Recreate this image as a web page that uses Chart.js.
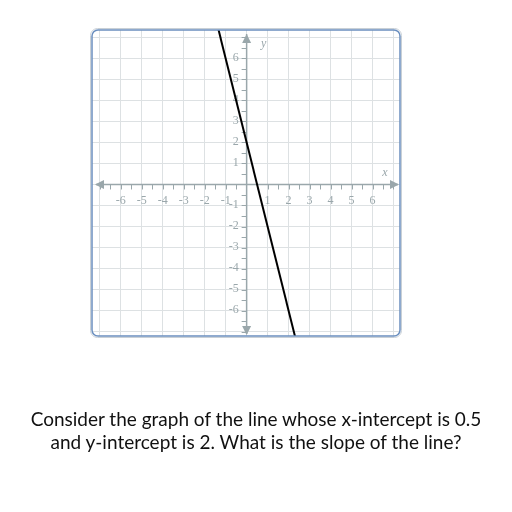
<!DOCTYPE html>
<html lang="en">
<head>
<meta charset="UTF-8">
<script src="https://cdn.jsdelivr.net/npm/chart.js"></script>
<style>
  body { margin: 0; background: #fff; }
  #wrap { position: relative; width: 512px; height: 512px; }
  #graph { position: absolute; left: 0; top: 0; }
  .question {
    position: absolute; left: 0; top: 407px; width: 512px;
    text-align: center; font-family: Lato, sans-serif; font-size: 19px;
    line-height: 23px; color: #111;
  }
</style>
</head>
<body>
<div id="wrap">
  <canvas id="graph" width="512" height="512"></canvas>
  <div class="question">Consider the graph of the line whose x-intercept is 0.5<br>and y-intercept is 2. What is the slope of the line?</div>
</div>
<script>
  // line y = -4x + 2, two points outside the view (clipped)
  const lineX = [-2, 3];
  const lineY = [10, -10];

  // tick labels on the axes
  const xTickValues = [-6, -5, -4, -3, -2, -1, 1, 2, 3, 4, 5, 6];
  const xTickLabels = ['-6', '-5', '-4', '-3', '-2', '-1', '1', '2', '3', '4', '5', '6'];
  const yTickValues = [6, 5, 4, 3, 2, 1, -1, -2, -3, -4, -5, -6];
  const yTickLabels = ['6', '5', '4', '3', '2', '1', '-1', '-2', '-3', '-4', '-5', '-6'];

  const axisColor = '#9aa7ab';
  const gridColor = '#dde1e3';

  function intTicks(scale) {
    const t = [];
    for (let v = Math.ceil(scale.min); v <= Math.floor(scale.max); v++) t.push({ value: v });
    scale.ticks = t;
  }

  function arrow(ctx, x, y, dx, dy) {
    // tip at (x,y), pointing along (dx,dy)
    const L = 9, W = 4.5;
    ctx.beginPath();
    ctx.moveTo(x, y);
    ctx.lineTo(x - dx * L - dy * W, y - dy * L + dx * W);
    ctx.lineTo(x - dx * L + dy * W, y - dy * L - dx * W);
    ctx.closePath();
    ctx.fill();
  }

  const axesPlugin = {
    id: 'axes',
    beforeDatasetsDraw(chart) {
      const { ctx, chartArea: a, scales: { x, y } } = chart;
      const ox = x.getPixelForValue(0), oy = y.getPixelForValue(0);
      ctx.save();
      ctx.strokeStyle = axisColor;
      ctx.fillStyle = axisColor;
      ctx.lineWidth = 1.5;
      // axis lines
      ctx.beginPath();
      ctx.moveTo(a.left + 4, oy); ctx.lineTo(a.right - 2, oy);
      ctx.moveTo(ox, a.top + 4); ctx.lineTo(ox, a.bottom - 2);
      ctx.stroke();
      arrow(ctx, a.left + 3, oy, -1, 0);
      arrow(ctx, a.right - 1, oy, 1, 0);
      arrow(ctx, ox, a.top + 4, 0, -1);
      arrow(ctx, ox, a.bottom - 1, 0, 1);
      // half-unit tick marks
      ctx.lineWidth = 1;
      ctx.beginPath();
      for (let v = -7; v <= 7; v += 0.5) {
        if (v === 0) continue;
        const px = Math.round(x.getPixelForValue(v)) + 0.5;
        ctx.moveTo(px, oy); ctx.lineTo(px, oy + 5);
        const py = Math.round(y.getPixelForValue(v)) + 0.5;
        ctx.moveTo(ox - 5, py); ctx.lineTo(ox, py);
      }
      ctx.stroke();
      // labels
      ctx.font = '12px "Liberation Serif", serif';
      ctx.textAlign = 'center';
      ctx.textBaseline = 'middle';
      xTickValues.forEach((v, i) => ctx.fillText(xTickLabels[i], x.getPixelForValue(v), oy + 16));
      ctx.textAlign = 'right';
      yTickValues.forEach((v, i) => ctx.fillText(yTickLabels[i], ox - 8, y.getPixelForValue(v) - 1));
      ctx.font = 'italic 12px "Liberation Serif", serif';
      ctx.textAlign = 'center';
      ctx.fillText('y', ox + 17, a.top + 14);
      ctx.fillText('x', a.right - 15, oy - 12);
      ctx.restore();
    },
    afterDraw(chart) {
      const { ctx, chartArea: a } = chart;
      ctx.save();
      ctx.strokeStyle = '#c9d0d6';
      ctx.lineWidth = 1;
      ctx.beginPath();
      ctx.roundRect(a.left - 1.5, a.top - 1.5, a.right - a.left + 3, a.bottom - a.top + 3, 7);
      ctx.stroke();
      ctx.strokeStyle = '#6b8fbf';
      ctx.lineWidth = 1.5;
      ctx.beginPath();
      ctx.roundRect(a.left, a.top, a.right - a.left, a.bottom - a.top, 6);
      ctx.stroke();
      ctx.restore();
    }
  };

  new Chart(document.getElementById('graph'), {
    type: 'scatter',
    data: {
      datasets: [{
        data: lineX.map((v, i) => ({ x: v, y: lineY[i] })),
        showLine: true,
        borderColor: '#000',
        borderWidth: 2,
        pointRadius: 0
      }]
    },
    options: {
      responsive: false,
      animation: false,
      layout: { padding: { left: 92, top: 30, right: 112, bottom: 176 } },
      plugins: { legend: { display: false }, tooltip: { enabled: false } },
      scales: {
        x: {
          type: 'linear', min: -7.37, max: 7.31,
          afterBuildTicks: intTicks,
          ticks: { display: false },
          grid: { color: gridColor, lineWidth: 1, drawTicks: false, tickLength: 0 },
          border: { display: false }
        },
        y: {
          type: 'linear', min: -7.21, max: 7.35,
          afterBuildTicks: intTicks,
          ticks: { display: false },
          grid: { color: gridColor, lineWidth: 1, drawTicks: false, tickLength: 0 },
          border: { display: false }
        }
      }
    },
    plugins: [axesPlugin]
  });
</script>
</body>
</html>
